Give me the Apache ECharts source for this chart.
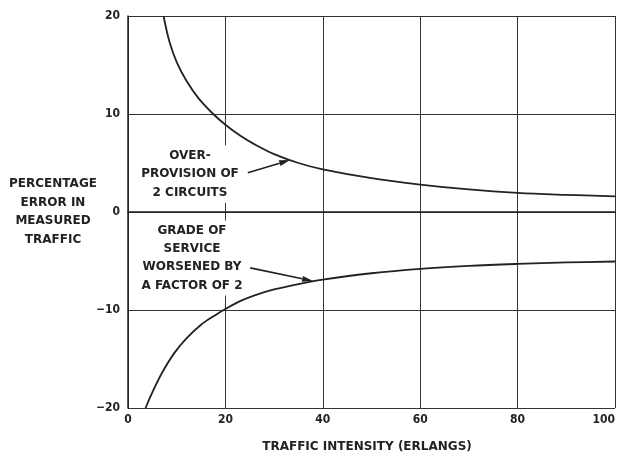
<!DOCTYPE html>
<html>
<head>
<meta charset="utf-8">
<script src="https://cdn.jsdelivr.net/npm/echarts@6/dist/echarts.min.js"></script>
<style>
  html, body { margin: 0; padding: 0; background: #fff; }
  #chart { width: 623px; height: 456px; }
</style>
</head>
<body>
<div id="chart"></div>
<script>
// curve: over-provision of 2 circuits
var overX = [7.3, 8.5, 10, 12, 14.5, 17.5, 20, 23, 26, 30, 35, 40, 50, 60, 70, 80, 90, 100];
var overY = [20, 17.4, 15.3, 13.4, 11.6, 10.0, 8.9, 7.8, 6.9, 5.9, 5.0, 4.35, 3.45, 2.8, 2.3, 1.95, 1.75, 1.6];
// grade of service worsened by a factor of 2
var gradeX = [3.6, 5, 7, 9.5, 12, 15, 18, 20, 23, 26, 30, 35, 40, 50, 60, 70, 80, 90, 100];
var gradeY = [-20, -18.4, -16.4, -14.4, -12.9, -11.5, -10.5, -9.9, -9.1, -8.5, -7.9, -7.35, -6.9, -6.25, -5.8, -5.5, -5.3, -5.15, -5.05];

// arrows from the notes to the curves, [from, to] in data units
var overArrow = [[24.6, 4.0], [33.3, 5.3]];
var gradeArrow = [[25.1, -5.7], [38, -7.05]];

var xTicks = [0, 20, 40, 60, 80, 100];
var yTicks = [-20, -10, 0, 10, 20];

var ink = '#222';
var tickFont = "'DejaVu Sans Condensed', 'Liberation Sans Narrow', sans-serif";
var textFont = "'DejaVu Sans', sans-serif";

function pairs(xs, ys) {
  return xs.map(function (x, i) { return [x, ys[i]]; });
}

var myChart = echarts.init(document.getElementById('chart'));

var labelStyle = {
  color: ink,
  fontFamily: tickFont,
  fontWeight: 'bold',
  fontSize: 12
};

function noteText(text, x, y, lh, boxed) {
  var st = {
    text: text,
    align: 'center',
    verticalAlign: 'middle',
    lineHeight: lh,
    fill: ink,
    font: 'bold 12px ' + textFont
  };
  if (boxed) {
    st.backgroundColor = '#fff';
    st.padding = [1, 2];
  }
  return { type: 'text', z: 100, x: x, y: y, style: st };
}

var option = {
  backgroundColor: '#fff',
  animation: false,
  grid: { left: 128, right: 8, top: 16, bottom: 48, outerBoundsMode: 'none' },
  xAxis: {
    type: 'value',
    min: 0,
    max: 100,
    interval: 20,
    axisLine: { lineStyle: { color: ink, width: 1.5 } },
    axisTick: { show: false },
    splitLine: { lineStyle: { color: '#333', width: 1 } },
    axisLabel: Object.assign({ margin: 6, alignMaxLabel: 'right' }, labelStyle, {
      formatter: function (v) { return xTicks.indexOf(v) >= 0 ? String(v) : ''; }
    })
  },
  yAxis: {
    type: 'value',
    min: -20,
    max: 20,
    interval: 10,
    axisLine: { lineStyle: { color: ink, width: 1.5 } },
    axisTick: { show: false },
    splitLine: { lineStyle: { color: '#333', width: 1 } },
    axisLabel: Object.assign({ margin: 8 }, labelStyle, {
      formatter: function (v) {
        if (yTicks.indexOf(v) < 0) return '';
        return v < 0 ? '\u2212' + Math.abs(v) : String(v);
      }
    })
  },
  series: [
    {
      type: 'line',
      smooth: 0.35,
      showSymbol: false,
      lineStyle: { color: ink, width: 1.8 },
      data: pairs(overX, overY),
      z: 3
    },
    {
      type: 'line',
      smooth: 0.35,
      showSymbol: false,
      lineStyle: { color: ink, width: 1.8 },
      data: pairs(gradeX, gradeY),
      z: 3
    }
  ],
  graphic: [
    noteText('PERCENTAGE\nERROR IN\nMEASURED\nTRAFFIC', 53, 212, 18.5, false),
    noteText('OVER-\nPROVISION OF\n2 CIRCUITS', 190, 174, 18.5, true),
    noteText('GRADE OF\nSERVICE\nWORSENED BY\nA FACTOR OF 2', 192, 258, 18.3, true),
    noteText('TRAFFIC INTENSITY (ERLANGS)', 367, 447, 14, false)
  ]
};

myChart.setOption(option, true);

// arrows: shaft plus a slim filled head, placed through the axes
function arrowShapes(seg) {
  var p0 = myChart.convertToPixel({ gridIndex: 0 }, seg[0]);
  var p1 = myChart.convertToPixel({ gridIndex: 0 }, seg[1]);
  var dx = p1[0] - p0[0], dy = p1[1] - p0[1];
  var len = Math.sqrt(dx * dx + dy * dy);
  var ux = dx / len, uy = dy / len;
  var hl = 11, hw = 3;
  var bx = p1[0] - ux * hl, by = p1[1] - uy * hl;
  return [
    {
      type: 'line', z: 101,
      shape: { x1: p0[0], y1: p0[1], x2: bx, y2: by },
      style: { stroke: ink, lineWidth: 1.6 }
    },
    {
      type: 'polygon', z: 101,
      shape: { points: [p1, [bx - uy * hw, by + ux * hw], [bx + uy * hw, by - ux * hw]] },
      style: { fill: ink }
    }
  ];
}

myChart.setOption({
  graphic: option.graphic.concat(arrowShapes(overArrow), arrowShapes(gradeArrow))
});

window.addEventListener('resize', function () {
  myChart.resize();
});
</script>
</body>
</html>
